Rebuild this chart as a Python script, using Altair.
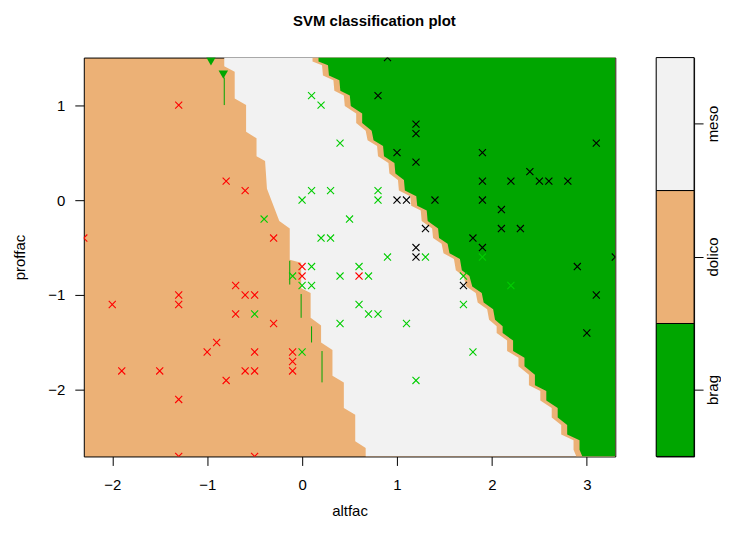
import altair as alt
import pandas as pd

TAN = "#ECB176"
GREEN = "#00A600"
GREY = "#F2F2F2"
FONT = "Liberation Sans"

classes = ["brag", "dolico", "meso"]
region_colors = [GREEN, TAN, GREY]
point_colors = ["black", "#FF0000", "#00CD00"]

x_domain = [-2.3, 3.3]
y_domain = [-2.7, 1.5]
x_ticks = [-2, -1, 0, 1, 2, 3]
y_ticks = [-2, -1, 0, 1]

# dolico | meso decision boundary (staircase)
b1_y = [1.50, 1.41, 1.35, 1.07, 1.00, 0.72, 0.65, 0.46, 0.41, 0.12, -0.22, -0.30, -0.63, -0.66,
        -0.93, -0.98, -1.24, -1.32, -1.50, -1.58, -1.85, -1.92, -2.19, -2.26, -2.54, -2.61, -2.70]
b1_x = [-0.82, -0.82, -0.71, -0.71, -0.59, -0.59, -0.48, -0.48, -0.39, -0.37, -0.24, -0.13, -0.13, -0.01,
        -0.01, 0.09, 0.09, 0.20, 0.20, 0.32, 0.32, 0.44, 0.44, 0.56, 0.56, 0.67, 0.67]

# meso | brag decision boundary (staircase)
b2_y = [1.50, 1.46, 1.42, 1.31, 1.26, 1.15, 1.10, 0.99, 0.91, 0.81, 0.73, 0.63, 0.57, 0.46, 0.39, 0.28,
        0.21, 0.10, 0.04, -0.06, -0.11, -0.22, -0.30, -0.40, -0.46, -0.56, -0.62, -0.74, -0.80, -0.91,
        -0.98, -1.08, -1.15, -1.26, -1.33, -1.40, -1.48, -1.59, -1.66, -1.75, -1.84, -1.95, -2.01, -2.11,
        -2.19, -2.29, -2.37, -2.47, -2.53, -2.63, -2.70]
b2_x = [0.11, 0.11, 0.21, 0.22, 0.33, 0.34, 0.44, 0.45, 0.57, 0.57, 0.67, 0.69, 0.79, 0.80, 0.91, 0.92,
        1.01, 1.02, 1.14, 1.15, 1.25, 1.26, 1.37, 1.38, 1.47, 1.49, 1.60, 1.62, 1.70, 1.73,
        1.83, 1.85, 1.95, 1.97, 2.05, 2.05, 2.16, 2.16, 2.28, 2.28, 2.39, 2.39, 2.51, 2.51,
        2.63, 2.63, 2.73, 2.73, 2.86, 2.86, 2.89]

# small contour artefacts
blob_x = [-0.96, -0.83]
blob_y = [1.46, 1.32]
art_x = [-0.82, -0.13, -0.01, 0.10, 0.21]
art_y = [1.29, -0.64, -0.99, -1.33, -1.59]
art_y2 = [1.00, -0.89, -1.24, -1.50, -1.92]

brag_x = [0.9, 0.8, 1.2, 1.2, 1.0, 1.2, 1.9, 3.1, 1.9, 2.2, 2.4, 2.5, 2.6, 2.8, 1.0, 1.1, 1.4, 1.9,
          2.1, 2.1, 2.3, 1.8, 1.9, 1.3, 1.2, 1.2, 2.9, 3.3, 1.7, 3.1, 3.0]
brag_y = [1.5, 1.1, 0.8, 0.7, 0.5, 0.4, 0.5, 0.6, 0.2, 0.2, 0.3, 0.2, 0.2, 0.2, 0.0, 0.0, 0.0, 0.0,
          -0.1, -0.3, -0.3, -0.4, -0.5, -0.3, -0.5, -0.6, -0.7, -0.6, -0.9, -1.0, -1.4]
dolico_x = [-1.3, -0.8, -0.6, -2.3, -0.3, -0.7, -0.6, -0.5, -1.3, -1.3, -2.0, -0.7, -0.9, -1.0, -0.5,
            -1.9, -1.5, -0.6, -0.5, -0.8, -1.3, -1.3, -0.5, 0.0, 0.0, 0.6, -0.3, -0.1, -0.1, -0.1]
dolico_y = [1.0, 0.2, 0.1, -0.4, -0.4, -0.9, -1.0, -1.0, -1.0, -1.1, -1.1, -1.2, -1.5, -1.6, -1.6,
            -1.8, -1.8, -1.8, -1.8, -1.9, -2.1, -2.7, -2.7, -0.7, -0.8, -0.8, -1.3, -1.6, -1.7, -1.8]
meso_x = [-0.4, -0.5, 0.1, 0.2, 0.4, 0.1, 0.3, 0.8, 0.0, 0.8, 0.5, 0.2, 0.3, 1.3, 0.9, 0.1, 0.6,
          -0.1, 0.4, 0.7, 0.0, 0.1, 0.6, 0.7, 0.8, 0.4, 1.1, 0.0, 1.2, 1.9, 2.2, 1.7, 1.7, 1.8]
meso_y = [-0.2, -1.2, 1.1, 1.0, 0.6, 0.1, 0.1, 0.1, 0.0, 0.0, -0.2, -0.4, -0.4, -0.6, -0.6, -0.7, -0.7,
          -0.8, -0.8, -0.8, -0.9, -0.9, -1.1, -1.2, -1.2, -1.3, -1.3, -1.6, -1.9, -0.6, -0.9, -0.8, -1.1, -1.6]

pts = pd.concat([
    pd.DataFrame({"x": brag_x, "y": brag_y, "cls": "brag"}),
    pd.DataFrame({"x": dolico_x, "y": dolico_y, "cls": "dolico"}),
    pd.DataFrame({"x": meso_x, "y": meso_y, "cls": "meso"}),
], ignore_index=True)
b1 = pd.DataFrame({"x": b1_x, "y": b1_y})
b2 = pd.DataFrame({"x": b2_x, "y": b2_y})
blobs = pd.DataFrame({"x": blob_x, "y": blob_y})
arts = pd.DataFrame({"x": art_x, "y": art_y, "y2": art_y2})

xs = alt.Scale(domain=x_domain, nice=False, zero=False)
ys = alt.Scale(domain=y_domain, nice=False, zero=False)

x_axis = alt.Axis(values=x_ticks, format="d", title="altfac", grid=False, domain=False, tickSize=9,
                  tickColor="black", labelColor="black", labelFont=FONT, labelFontSize=15,
                  labelPadding=12, titleFont=FONT, titleFontSize=15, titleFontWeight="normal",
                  titleColor="black", titlePadding=11)
y_axis = alt.Axis(values=y_ticks, format="d", title="proffac", grid=False, domain=False, tickSize=9,
                  tickColor="black", labelColor="black", labelFont=FONT, labelFontSize=15,
                  labelPadding=10, titleFont=FONT, titleFontSize=15, titleFontWeight="normal",
                  titleColor="black", titlePadding=20)

meso_area = alt.Chart(b1).mark_area(orient="horizontal", color=GREY, clip=True).encode(
    y=alt.Y("y:Q", scale=ys, axis=y_axis),
    x=alt.X("x:Q", scale=xs, axis=x_axis),
    x2=alt.datum(x_domain[1]),
)
strip_area = alt.Chart(b2).mark_area(orient="horizontal", color=TAN, clip=True).encode(
    y=alt.Y("y:Q", scale=ys), x=alt.X("x:Q", scale=xs), x2=alt.datum(x_domain[1]),
)
brag_area = alt.Chart(b2).mark_area(orient="horizontal", color=GREEN, clip=True, xOffset=6).encode(
    y=alt.Y("y:Q", scale=ys), x=alt.X("x:Q", scale=xs), x2=alt.datum(x_domain[1]),
)
art_rules = alt.Chart(arts).mark_rule(color=GREEN, strokeWidth=1, clip=True).encode(
    x=alt.X("x:Q", scale=xs), y=alt.Y("y:Q", scale=ys), y2="y2:Q",
)
blob_marks = alt.Chart(blobs).mark_point(shape="triangle-down", filled=True, color=GREEN,
                                         size=90, opacity=1, clip=True).encode(
    x=alt.X("x:Q", scale=xs), y=alt.Y("y:Q", scale=ys),
)
points = alt.Chart(pts).mark_point(shape="M-1,-1L1,1M-1,1L1,-1", filled=False, size=50,
                                   strokeWidth=1.1, opacity=1, clip=True).encode(
    x=alt.X("x:Q", scale=xs),
    y=alt.Y("y:Q", scale=ys),
    color=alt.Color("cls:N", scale=alt.Scale(domain=classes, range=point_colors), legend=None),
)

main = alt.layer(meso_area, strip_area, brag_area, art_rules, blob_marks, points).properties(
    width=533, height=400, view=alt.ViewBackground(fill=TAN, stroke="black", strokeWidth=1)
)

leg_df = pd.DataFrame({"cls": classes})
legend = alt.Chart(leg_df).mark_rect(stroke="black", strokeWidth=1).encode(
    y=alt.Y("cls:N", sort=["meso", "dolico", "brag"],
            scale=alt.Scale(paddingInner=0, paddingOuter=0),
            axis=alt.Axis(orient="right", title=None, labelAngle=270, tickSize=9, domain=False,
                          tickColor="black", labelColor="black", labelFont=FONT, labelFontSize=15,
                          labelPadding=2, labelAlign="center", labelBaseline="top")),
    color=alt.Color("cls:N", scale=alt.Scale(domain=classes, range=region_colors), legend=None),
).properties(width=38, height=400, view=alt.ViewBackground(stroke="black", strokeWidth=1))

chart = alt.hconcat(main, legend, spacing=39).resolve_scale(color="independent").properties(
    title=alt.TitleParams("SVM classification plot", font=FONT, fontSize=15, fontWeight="bold",
                          color="black", anchor="middle", offset=28, dx=8),
    padding={"left": 4, "top": 5, "right": 0, "bottom": 0},
)

chart.save("out.html", embed_options={"renderer": "svg", "actions": False})
